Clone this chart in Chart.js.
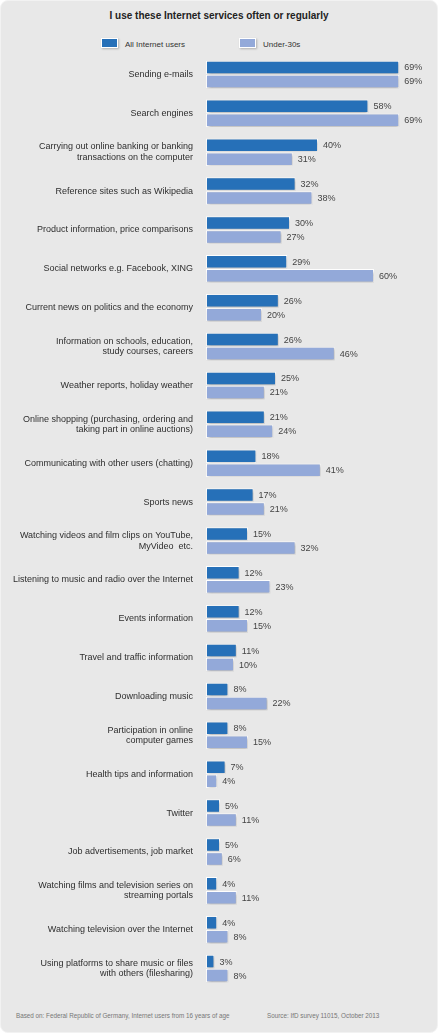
<!DOCTYPE html>
<html>
<head>
<meta charset="utf-8">
<script src="https://cdn.jsdelivr.net/npm/chart.js@4.4.0/dist/chart.umd.min.js"></script>
<style>
  html, body { margin: 0; padding: 0; background: #fff; }
  body { width: 438px; height: 1033px; position: relative; font-family: "Liberation Sans", Arial, sans-serif; overflow: hidden; }
  .panel { position: absolute; left: 0; top: 0; width: 436px; height: 1031px; background: #e8e8e8; border: 1px solid #f2f2f2; border-radius: 8px; }
  .title { position: absolute; left: 0; width: 438px; top: 10px; text-align: center; font-weight: bold; font-size: 10px; color: #222; }
  .legend { position: absolute; top: 38px; font-size: 8px; color: #333; }
  .legend span.box { display: inline-block; width: 15px; height: 8px; vertical-align: -1px; margin-right: 7px; border: 1px solid #fff; box-shadow: 1px 1px 2px rgba(0,0,0,0.25); }
  .foot { position: absolute; top: 1012px; font-size: 6.3px; color: #777; }
  #wrap { position: absolute; left: 0; top: 55px; width: 438px; height: 933px; }
</style>
</head>
<body>
<div class="panel"></div>
<div class="title">I use these Internet services often or regularly</div>
<div class="legend" style="left:101px"><span class="box" style="background:#2670b8"></span>All Internet users</div>
<div class="legend" style="left:239px"><span class="box" style="background:#93a9d9"></span>Under-30s</div>
<div id="wrap"><canvas id="c"></canvas></div>
<div class="foot" style="left:16px">Based on: Federal Republic of Germany, Internet users from 16 years of age</div>
<div class="foot" style="left:267px">Source: IfD survey 11015, October 2013</div>
<script>
var categories = [
  'Sending e-mails',
  'Search engines',
  ['Carrying out online banking or banking', 'transactions on the computer'],
  'Reference sites such as Wikipedia',
  'Product information, price comparisons',
  'Social networks e.g. Facebook, XING',
  'Current news on politics and the economy',
  ['Information on schools, education,', 'study courses, careers'],
  'Weather reports, holiday weather',
  ['Online shopping (purchasing, ordering and', 'taking part in online auctions)'],
  'Communicating with other users (chatting)',
  'Sports news',
  ['Watching videos and film clips on YouTube,', 'MyVideo  etc.'],
  'Listening to music and radio over the Internet',
  'Events information',
  'Travel and traffic information',
  'Downloading music',
  ['Participation in online', 'computer games'],
  'Health tips and information',
  'Twitter',
  'Job advertisements, job market',
  ['Watching films and television series on', 'streaming portals'],
  'Watching television over the Internet',
  ['Using platforms to share music or files', 'with others (filesharing)']
];
var allUsers = [69, 58, 40, 32, 30, 29, 26, 26, 25, 21, 18, 17, 15, 12, 12, 11, 8, 8, 7, 5, 5, 4, 4, 3];
var under30 = [69, 69, 31, 38, 27, 60, 20, 46, 21, 24, 41, 21, 32, 23, 15, 10, 22, 15, 4, 11, 6, 11, 8, 8];
var seriesNames = ['All Internet users', 'Under-30s'];

// soft drop shadow under the bars
var shadowPlugin = {
  id: 'barShadow',
  beforeDatasetsDraw: function(chart) {
    var ctx = chart.ctx;
    ctx.save();
    ctx.shadowColor = 'rgba(0,0,0,0.28)';
    ctx.shadowBlur = 3;
    ctx.shadowOffsetX = 1;
    ctx.shadowOffsetY = 1.5;
  },
  afterDatasetsDraw: function(chart) {
    chart.ctx.restore();
  }
};

// percentage labels at the end of each bar
var valuePlugin = {
  id: 'valueLabels',
  afterDatasetsDraw: function(chart) {
    var ctx = chart.ctx;
    ctx.save();
    ctx.font = '9px "Liberation Sans", Arial, sans-serif';
    ctx.fillStyle = '#444';
    ctx.textBaseline = 'middle';
    chart.data.datasets.forEach(function(ds, i) {
      chart.getDatasetMeta(i).data.forEach(function(bar, j) {
        ctx.fillText(ds.data[j] + '%', bar.x + 5, bar.y + 0.5);
      });
    });
    ctx.restore();
  }
};

new Chart(document.getElementById('c'), {
  type: 'bar',
  data: {
    labels: categories,
    datasets: [
      { label: seriesNames[0], data: allUsers, backgroundColor: '#2670b8', borderColor: '#ffffff', borderWidth: 1, borderSkipped: false },
      { label: seriesNames[1], data: under30, backgroundColor: '#93a9d9', borderColor: '#ffffff', borderWidth: 1, borderSkipped: false }
    ]
  },
  options: {
    indexAxis: 'y',
    responsive: true,
    maintainAspectRatio: false,
    animation: false,
    layout: { padding: { left: 0, right: 8, top: 0, bottom: 0 } },
    datasets: { bar: { categoryPercentage: 0.72, barPercentage: 0.96 } },
    plugins: {
      legend: { display: false },
      tooltip: { enabled: false }
    },
    scales: {
      x: { display: false, min: 0, max: 80 },
      y: {
        grid: { display: false },
        border: { display: false },
        afterFit: function(scale) {
          scale.width = 206;
          scale.paddingTop = 0;
          scale.paddingBottom = 0;
        },
        ticks: {
          padding: 5,
          color: '#2e2e2e',
          font: { family: '"Liberation Sans", Arial, sans-serif', size: 9, lineHeight: 1.15 }
        }
      }
    }
  },
  plugins: [shadowPlugin, valuePlugin]
});
</script>
</body>
</html>
